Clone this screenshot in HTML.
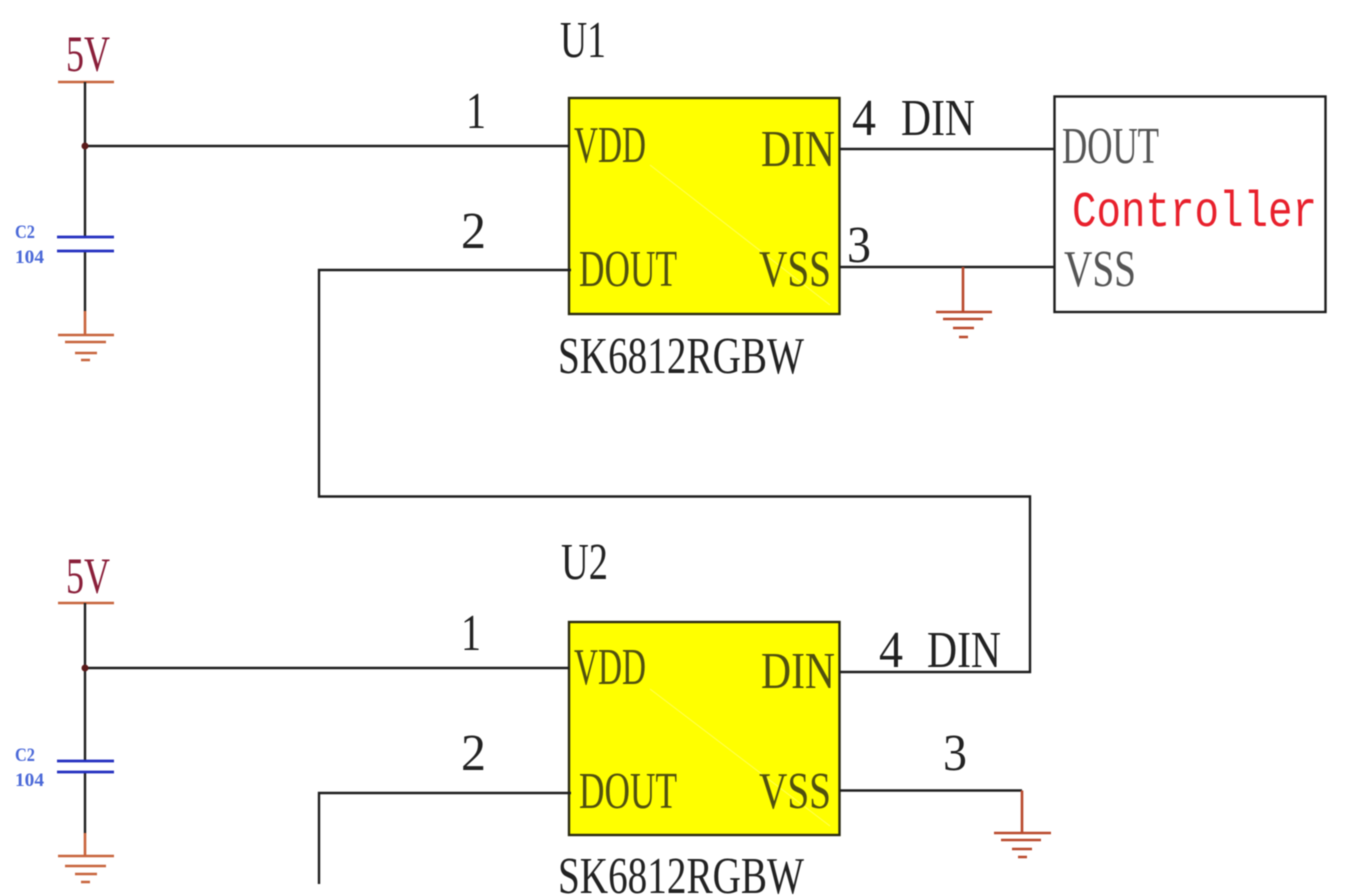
<!DOCTYPE html>
<html>
<head>
<meta charset="utf-8">
<style>
html,body{margin:0;padding:0;background:#fff;width:1355px;height:895px;overflow:hidden}
svg{display:block;filter:blur(.55px)}
text{font-family:"Liberation Serif",serif;font-size:52px;fill:#222}
.c{fill:#50500f}
.g{fill:#555}
.v{fill:#8a1f3a;font-size:51px}
.b{font-family:"Liberation Serif",serif;font-size:19px;fill:#4a68d8;font-weight:bold}
.w{stroke:#1e1e1e;stroke-width:2.4;fill:none}
.o{stroke:#c8643c;stroke-width:2.6;fill:none}
.r{stroke:#b9492c;stroke-width:2.6;fill:none}
.cap{stroke:#2430c0;stroke-width:2.8;fill:none}
</style>
</head>
<body>
<svg width="1355" height="895" viewBox="0 0 1355 895" xmlns="http://www.w3.org/2000/svg">
<rect width="1355" height="895" fill="#fff"/>

<!-- chips -->
<rect x="569" y="98" width="270.500" height="216" fill="#ffff00" stroke="#2a2a10" stroke-width="2.4"/>
<rect x="569" y="622" width="270.500" height="213" fill="#ffff00" stroke="#2a2a10" stroke-width="2.4"/>
<path d="M650 165L830 305M650 689L830 826" stroke="#ffff55" stroke-width="1" fill="none"/>
<rect x="1054.500" y="96.500" width="271" height="215.500" fill="#fff" stroke="#1e1e1e" stroke-width="2.4"/>

<!-- left supply 1 -->
<path class="o" d="M58 82H114"/>
<path class="w" d="M85 82V237M85 251V311M85 146H569"/>
<circle cx="85" cy="146" r="3.500" fill="#5a1a1a"/>
<path class="cap" d="M57 237H114M57 251H114"/>
<path class="o" d="M85 311V335M58 335H114M65 342H106M75 353H97M81 360H90"/>

<!-- left supply 2 -->
<path class="o" d="M58 603H114"/>
<path class="w" d="M85 603V761M85 772V833M85 668H569"/>
<circle cx="85" cy="668" r="3.500" fill="#5a1a1a"/>
<path class="cap" d="M57 761H114M57 772H114"/>
<path class="o" d="M85 833V856M58 856H114M65 866H106M75 874H97M81 882H90"/>

<!-- wires -->
<path class="w" d="M571 270H319V496.500H1030V672H840"/>
<path class="w" d="M840 149H1054M840 267H1054"/>
<path class="w" d="M571 793H319V884"/>
<path class="w" d="M840 790.500H1022"/>

<!-- grounds -->
<path class="r" d="M963 267V312M936 312H992M943 319H983M953 328H974M959 337H968"/>
<path class="r" d="M1022 790.500V833M994 833H1051M1001 840H1041M1012 849H1032M1018 857H1027"/>

<!-- top labels -->
<text class="v" x="66" y="71" textLength="44" lengthAdjust="spacingAndGlyphs">5V</text>
<text x="560" y="57" textLength="46" lengthAdjust="spacingAndGlyphs">U1</text>
<text x="466" y="128" textLength="20" lengthAdjust="spacingAndGlyphs">1</text>
<text x="461" y="248" textLength="25" lengthAdjust="spacingAndGlyphs">2</text>
<text class="c" x="574" y="162" textLength="72" lengthAdjust="spacingAndGlyphs">VDD</text>
<text class="c" x="761" y="166" textLength="74" lengthAdjust="spacingAndGlyphs">DIN</text>
<text class="c" x="579" y="286" textLength="98" lengthAdjust="spacingAndGlyphs">DOUT</text>
<text class="c" x="759" y="286" textLength="72" lengthAdjust="spacingAndGlyphs">VSS</text>
<text x="558" y="373" textLength="246" lengthAdjust="spacingAndGlyphs">SK6812RGBW</text>
<text x="852" y="135" textLength="24" lengthAdjust="spacingAndGlyphs">4</text>
<text x="901" y="135" textLength="74" lengthAdjust="spacingAndGlyphs">DIN</text>
<text x="847" y="262" textLength="24" lengthAdjust="spacingAndGlyphs">3</text>
<text class="g" x="1062" y="163" textLength="97" lengthAdjust="spacingAndGlyphs">DOUT</text>
<text x="1072" y="226" textLength="245" lengthAdjust="spacingAndGlyphs" style="fill:#e8202c;font-size:50px;font-family:'Liberation Mono',monospace">Controller</text>
<text class="g" x="1064" y="286" textLength="72" lengthAdjust="spacingAndGlyphs">VSS</text>
<text class="b" x="15" y="238" textLength="20" lengthAdjust="spacingAndGlyphs">C2</text>
<text class="b" x="15" y="263" textLength="29" lengthAdjust="spacingAndGlyphs">104</text>

<!-- bottom labels -->
<text class="v" x="66" y="593" textLength="44" lengthAdjust="spacingAndGlyphs">5V</text>
<text x="561" y="579" textLength="47" lengthAdjust="spacingAndGlyphs">U2</text>
<text x="461" y="650" textLength="20" lengthAdjust="spacingAndGlyphs">1</text>
<text x="461" y="770" textLength="25" lengthAdjust="spacingAndGlyphs">2</text>
<text class="c" x="574" y="684" textLength="72" lengthAdjust="spacingAndGlyphs">VDD</text>
<text class="c" x="761" y="688" textLength="74" lengthAdjust="spacingAndGlyphs">DIN</text>
<text class="c" x="579" y="808" textLength="98" lengthAdjust="spacingAndGlyphs">DOUT</text>
<text class="c" x="759" y="808" textLength="72" lengthAdjust="spacingAndGlyphs">VSS</text>
<text x="558" y="893" textLength="246" lengthAdjust="spacingAndGlyphs">SK6812RGBW</text>
<text x="879" y="667" textLength="24" lengthAdjust="spacingAndGlyphs">4</text>
<text x="927" y="667" textLength="74" lengthAdjust="spacingAndGlyphs">DIN</text>
<text x="943" y="770" textLength="24" lengthAdjust="spacingAndGlyphs">3</text>
<text class="b" x="15" y="761" textLength="20" lengthAdjust="spacingAndGlyphs">C2</text>
<text class="b" x="15" y="786" textLength="29" lengthAdjust="spacingAndGlyphs">104</text>
</svg>
</body>
</html>
